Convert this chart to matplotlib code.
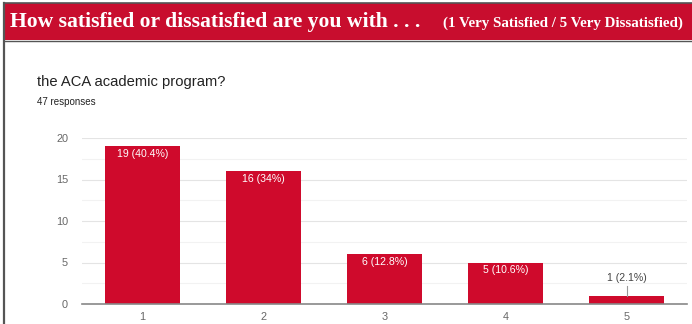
import matplotlib.pyplot as plt
from matplotlib.patches import Rectangle
from matplotlib.lines import Line2D

# survey answers: 1 = very satisfied ... 5 = very dissatisfied
categories = ['1', '2', '3', '4', '5']
counts = [19, 16, 6, 5, 1]
pct_labels = ['19 (40.4%)', '16 (34%)', '6 (12.8%)', '5 (10.6%)', '1 (2.1%)']
n_responses = 47

barColor = '#cf0a2c'
headerColor = '#c80d2e'
tickColor = '#666666'

plt.rcParams['font.family'] = ['Liberation Sans', 'DejaVu Sans']

fig = plt.figure(figsize=(6.92, 3.24), dpi=100)
fig.patch.set_facecolor('white')

# red header band with its frame
fig.patches.append(Rectangle((0.006, 1 - 40 / 324), 0.994, 37 / 324,
                             transform=fig.transFigure, facecolor=headerColor,
                             edgecolor='none', zorder=0))
fig.lines.append(Line2D([0.006, 1], [1 - 2.5 / 324] * 2, transform=fig.transFigure,
                        color='#555555', lw=1.2))
fig.lines.append(Line2D([0.006, 1], [1 - 40.5 / 324] * 2, transform=fig.transFigure,
                        color='#555555', lw=1.0))
fig.lines.append(Line2D([0.006, 0.006], [0, 1 - 2.5 / 324], transform=fig.transFigure,
                        color='#555555', lw=1.6))

fig.text(10 / 692, 1 - 22 / 324, 'How satisfied or dissatisfied are you with . . .',
         family='Liberation Serif', weight='bold', color='white', fontsize=15.6,
         va='center', ha='left')
fig.text(683 / 692, 1 - 23 / 324, '(1 Very Satisfied / 5 Very Dissatisfied)',
         family='Liberation Serif', weight='bold', color='white', fontsize=10.8,
         va='center', ha='right')

fig.text(37 / 692, 1 - 82 / 324, 'the ACA academic program?', fontsize=10.6,
         color='#222222', va='center', ha='left')
fig.text(37 / 692, 1 - 102 / 324, f'{n_responses} responses', fontsize=7,
         color='#222222', va='center', ha='left')

ax = fig.add_axes([82 / 692, 1 - 304 / 324, 605 / 692, 166 / 324])
x = range(len(categories))
bars = ax.bar(x, counts, width=0.62, color=barColor, zorder=3)

ax.set_xlim(-0.5, len(categories) - 0.5)
ax.set_ylim(0, 20)
ax.set_yticks([0, 5, 10, 15, 20])
ax.set_yticks([2.5, 7.5, 12.5, 17.5], minor=True)
ax.set_xticks(list(x))
ax.set_xticklabels(categories)
ax.grid(axis='y', which='major', color='#e4e4e4', lw=0.8, zorder=0)
ax.grid(axis='y', which='minor', color='#f2f2f2', lw=0.8, zorder=0)
ax.tick_params(axis='both', which='both', length=0, labelsize=7.8, colors=tickColor)
ax.tick_params(axis='y', pad=10)
ax.tick_params(axis='x', pad=6)
for s in ['top', 'right', 'left']:
    ax.spines[s].set_visible(False)
ax.spines['bottom'].set_color('#888888')
ax.spines['bottom'].set_linewidth(1.2)
ax.spines['bottom'].set_zorder(4)

for i, (c, lab) in enumerate(zip(counts, pct_labels)):
    if c >= 3:
        ax.text(i, c - 0.35, lab, ha='center', va='top', color='white', fontsize=7.6,
                zorder=5)
    else:
        # small bar: label above with a leader line
        ax.plot([i, i], [c, c + 1.2], color='#999999', lw=0.8, zorder=5)
        ax.text(i, c + 1.5, lab, ha='center', va='bottom', color='#444444',
                fontsize=7.6, zorder=5)

fig.savefig('out.png', dpi=100)
